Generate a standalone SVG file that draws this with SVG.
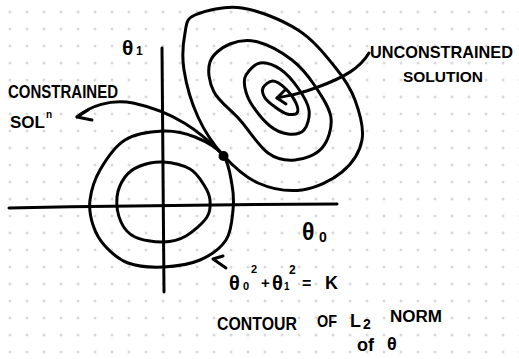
<svg xmlns="http://www.w3.org/2000/svg" width="519" height="359" viewBox="0 0 519 359">
<style>
.ink{fill:none;stroke:#000;stroke-width:3;stroke-linecap:round;stroke-linejoin:round}
.t{font-family:"Liberation Sans",Arial,sans-serif;fill:#000;font-weight:bold}
</style>
<defs>
<pattern id="grid" x="2" y="4" width="17" height="17" patternUnits="userSpaceOnUse">
<path d="M6.5,8 H9.5 M8,6.5 V9.5" stroke="#cccccc" stroke-width="1"/>
</pattern>
</defs>
<rect width="519" height="359" fill="#ffffff"/>
<rect width="519" height="359" fill="url(#grid)"/>

<g id="axes">
<path class="ink" d="M162,48 Q163,170 164,292"/>
<path class="ink" d="M9,208 Q170,205 337,204"/>
<text class="t" x="122" y="55" font-size="21">θ</text>
<text class="t" x="136" y="55" font-size="12">1</text>
<text class="t" x="302" y="240" font-size="23">θ</text>
<text class="t" x="319" y="242" font-size="14">0</text>
</g>

<g id="cost-contours">
<path class="ink" d="M195,15 C204.5,10.8 224.8,5.5 242,8 S282.5,20.2 298,30 S325.5,55.3 335,67 S350.5,87.8 355,100 S364.2,128 362,140 S352,163.7 342,172 S316,188.2 302,190 S271.2,188.8 258,183 S233,166 223,155 S204.5,131.2 198,117 S186.2,84 184,70 S183.2,42.2 185,33 S185.5,19.2 195,15 Z"/>
<path class="ink" d="M210,62 C212.7,54 222,47.3 230,44 S247.7,39.3 258,42 S282.5,52.7 292,60 S308.5,76.3 315,86 S329.8,107.7 331,118 S328,141 322,148 S304,159.2 295,160 S277.2,159.7 268,153 S249,130.2 240,120 S219,101.7 214,92 S207.3,70 210,62 Z"/>
<path class="ink" d="M246,75 C248.5,70.8 254.3,64 260,63 S273.7,64.8 280,69 S293.2,81.2 298,88 S308,103 309,110 S307.5,126 304,130 S293.7,134.7 288,134 S276,130.8 270,126 S256.2,111.3 252,105 S246,93 245,88 S243.5,79.2 246,75 Z"/>
<path class="ink" d="M263,88 C264.3,85.2 269.2,80.8 273,81 S282.2,85.3 286,89 S294.2,99 296,103 S298.5,111.2 297,113 S290.7,115 287,114 S278.7,109.7 275,107 S267,101.2 265,98 S261.7,90.8 263,88 Z"/>
</g>

<g id="l2-contours">
<path class="ink" d="M163,131 C174.7,130.5 185,133 195,137 S216.8,147 223,155 S230.3,175.8 232,185 S234,200.8 233,210 S231.5,231.7 226,240 S210.5,255.5 200,260 S175,266.5 163,267 S137.7,266.5 128,263 S110.8,252.3 105,246 S95.5,232.7 93,225 S88.8,209.2 90,200 S94.2,180 100,170 S114.5,146.5 125,140 S151.3,131.5 163,131 Z"/>
<path class="ink" d="M163,162 C171.3,162.5 183.2,165.2 190,169 S200.7,179.8 204,185 S209.5,194.7 210,200 S211,211 207,217 S193.3,231.8 186,236 S171.5,241.8 163,242 S142,240.3 135,237 S124,228.7 121,222 S116.3,204.5 117,197 S121.2,182.2 125,177 S133.7,168.5 140,166 S154.7,161.5 163,162 Z"/>
</g>

<g id="constrained-point">
<circle cx="223.5" cy="156" r="5" fill="#000"/>
</g>

<g id="unconstrained-label">
<text class="t" x="370" y="58" font-size="17" textLength="143" lengthAdjust="spacingAndGlyphs">UNCONSTRAINED</text>
<text class="t" x="403" y="82" font-size="15" textLength="80" lengthAdjust="spacingAndGlyphs">SOLUTION</text>
</g>

<g id="constrained-label">
<text class="t" x="8" y="98" font-size="19" textLength="110" lengthAdjust="spacingAndGlyphs">CONSTRAINED</text>
<text class="t" x="10" y="128" font-size="17">SOL<tspan dx="1" dy="-10" font-size="10">n</tspan></text>
</g>

<g id="equation-label">
<text class="t" font-size="20"><tspan x="229" y="290">θ</tspan><tspan x="243" y="290" font-size="11">0</tspan><tspan x="251" y="273" font-size="11">2</tspan><tspan x="261" y="288" font-size="15">+</tspan><tspan x="272" y="290">θ</tspan><tspan x="284" y="290" font-size="10">1</tspan><tspan x="289" y="274" font-size="12">2</tspan><tspan x="302" y="289" font-size="16">=</tspan><tspan x="325" y="289" font-size="18">K</tspan></text>
<text class="t" x="217" y="330" font-size="18" textLength="80" lengthAdjust="spacingAndGlyphs">CONTOUR</text>
<text class="t" x="317" y="327" font-size="17" textLength="20" lengthAdjust="spacingAndGlyphs">OF</text>
<text class="t" x="350" y="327" font-size="18">L</text>
<text class="t" x="363" y="329" font-size="14">2</text>
<text class="t" x="390" y="322" font-size="16" textLength="52" lengthAdjust="spacingAndGlyphs">NORM</text>
<text class="t" x="357" y="351" font-size="18">of</text>
<text class="t" x="387" y="350" font-size="18">θ</text>
</g>

<g id="connectors">
<path class="ink" d="M369,53 C360,68 345,77 318,87 S288,95 277,98"/>
<path class="ink" d="M285,90 L277,98 L286,104"/>
<path class="ink" d="M219,151 C200,132 175,112 133,103 C110,99 90,106 77,117"/>
<path class="ink" d="M88,110 L77,117 L92,120"/>
<path class="ink" d="M223,256 L213,259 L226,268"/>
</g>
</svg>
